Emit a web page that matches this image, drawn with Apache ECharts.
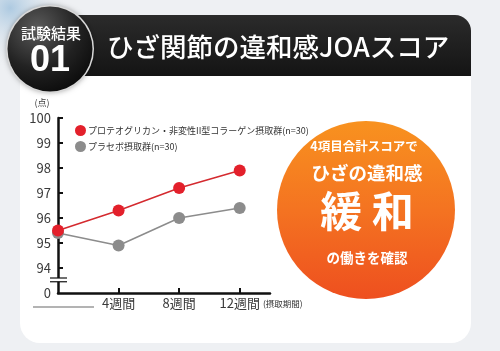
<!DOCTYPE html>
<html>
<head>
<meta charset="utf-8">
<script src="https://cdn.jsdelivr.net/npm/echarts@6/dist/echarts.min.js"></script>
<style>
html,body{margin:0;padding:0;background:#eef0f3;}
#chart{width:500px;height:351px;}
</style>
</head>
<body>
<div id="chart"></div>
<script>
// データ
var weeks = [0, 4, 8, 12];
var weekLabels = ['4週間', '8週間', '12週間'];
var collagenScore = [95.5, 96.3, 97.2, 97.9];
var placeboScore = [95.4, 94.9, 96.0, 96.4];
var yTicks = [94, 95, 96, 97, 98, 99, 100];
var seriesNames = ['プロテオグリカン・非変性II型コラーゲン摂取群(n=30)', 'プラセボ摂取群(n=30)'];

var FONT = '"Noto Sans CJK JP", sans-serif';

function pairs(xs, ys) {
    return xs.map(function (x, i) { return [x, ys[i]]; });
}

var chart = echarts.init(document.getElementById('chart'));

var option = {
    backgroundColor: '#eef0f3',
    animation: false,
    textStyle: { fontFamily: FONT },
    grid: { left: 58, right: 230, top: 118, bottom: 58 },
    legend: {
        orient: 'vertical',
        left: 70,
        top: 120,
        itemGap: 5,
        itemWidth: 11,
        itemHeight: 11,
        icon: 'circle',
        textStyle: { fontSize: 9, color: '#333', fontFamily: FONT, padding: [0, 0, 0, -3] },
        data: seriesNames
    },
    xAxis: {
        type: 'value',
        min: 0,
        max: 14,
        interval: 4,
        splitLine: { show: false },
        axisLine: { lineStyle: { color: '#111', width: 2.5 } },
        axisTick: { inside: true, length: 5, lineStyle: { color: '#111', width: 2 }, customValues: [4, 8, 12] },
        axisLabel: {
            customValues: [4, 8, 12],
            margin: 4,
            fontSize: 13,
            color: '#3a3a3a',
            formatter: function (v) { return weekLabels[weeks.indexOf(v) - 1] || ''; }
        }
    },
    yAxis: {
        type: 'value',
        min: 93,
        max: 100,
        interval: 1,
        splitLine: { show: false },
        axisLine: { lineStyle: { color: '#111', width: 2.5 } },
        axisTick: { inside: true, length: 5, lineStyle: { color: '#111', width: 2 }, customValues: yTicks },
        axisLabel: {
            customValues: [93].concat(yTicks),
            margin: 7,
            fontSize: 13,
            color: '#3a3a3a',
            formatter: function (v) { return v === 93 ? '0' : String(v); }
        }
    },
    series: [
        {
            name: seriesNames[0],
            type: 'line',
            data: pairs(weeks, collagenScore),
            symbol: 'circle',
            symbolSize: 12,
            itemStyle: { color: '#e3202b' },
            lineStyle: { color: '#d42a2f', width: 1.5 },
            z: 4
        },
        {
            name: seriesNames[1],
            type: 'line',
            data: pairs(weeks, placeboScore),
            symbol: 'circle',
            symbolSize: 12,
            itemStyle: { color: '#8c8c8c' },
            lineStyle: { color: '#8c8c8c', width: 1.5 },
            z: 3
        }
    ]
};

chart.setOption(option);

// 軸の省略記号などの装飾
var breakTop = chart.convertToPixel({ gridIndex: 0 }, [0, 93.6]);
var breakBot = chart.convertToPixel({ gridIndex: 0 }, [0, 93.45]);

chart.setOption({
    graphic: [
        // 左上の背景のにじみ
        { type: 'circle', z: -10, shape: { cx: 10, cy: 8, r: 60 },
          style: { fill: new echarts.graphic.RadialGradient(0.5, 0.5, 0.5, [
              { offset: 0, color: 'rgba(120,170,210,0.55)' },
              { offset: 1, color: 'rgba(238,240,243,0)' }]) } },
        // 白いパネル
        { type: 'rect', z: -5, shape: { x: 20, y: 60, width: 451, height: 283, r: [0, 0, 20, 20] },
          style: { fill: '#ffffff' } },
        // 見出しバー
        { type: 'rect', z: -4, shape: { x: 78, y: 15, width: 393, height: 61, r: [0, 16, 0, 0] },
          style: { fill: new echarts.graphic.LinearGradient(0, 0, 0, 1, [
              { offset: 0, color: '#2b2b2b' }, { offset: 1, color: '#141414' }]) } },
        { type: 'text', z: 5, style: { x: 107, y: 47, text: 'ひざ関節の違和感JOAスコア', fill: '#fff',
          font: '500 26.5px ' + FONT, verticalAlign: 'middle' } },
        // 試験結果の丸
        { type: 'circle', z: -3, shape: { cx: 50, cy: 49, r: 44 },
          style: { fill: '#d8d8d8', shadowBlur: 5, shadowColor: 'rgba(0,0,0,0.3)' } },
        { type: 'circle', z: -2, shape: { cx: 50, cy: 49, r: 42.5 },
          style: { fill: new echarts.graphic.RadialGradient(0.35, 0.25, 0.8, [
              { offset: 0, color: '#5a5a5a' }, { offset: 0.6, color: '#222' }, { offset: 1, color: '#0c0c0c' }]) } },
        { type: 'text', z: 5, style: { x: 51, y: 33, text: '試験結果', fill: '#fff',
          font: '500 15px ' + FONT, align: 'center', verticalAlign: 'middle' } },
        { type: 'text', z: 5, style: { x: 50, y: 61, text: '01', fill: '#fff',
          font: 'bold 36px "Liberation Sans Narrow", "Liberation Sans", sans-serif', align: 'center', verticalAlign: 'middle' } },
        // 単位・期間
        { type: 'text', z: 5, style: { x: 42, y: 103, text: '(点)', fill: '#444',
          font: '9px ' + FONT, align: 'center', verticalAlign: 'middle' } },
        { type: 'text', z: 5, style: { x: 263, y: 304, text: '(摂取期間)', fill: '#333',
          font: '8.5px ' + FONT, verticalAlign: 'middle' } },
        { type: 'line', z: 5, shape: { x1: 33, y1: 307, x2: 94, y2: 307 },
          style: { stroke: '#9a9a9a', lineWidth: 1.5 } },
        // 軸の省略
        { type: 'rect', z: 50, shape: { x: 54, y: breakTop[1], width: 9, height: breakBot[1] - breakTop[1] },
          style: { fill: '#fff' } },
        { type: 'line', z: 51, shape: { x1: 50, y1: breakTop[1], x2: 67, y2: breakTop[1] },
          style: { stroke: '#111', lineWidth: 1.2 } },
        { type: 'line', z: 51, shape: { x1: 50, y1: breakBot[1], x2: 67, y2: breakBot[1] },
          style: { stroke: '#111', lineWidth: 1.2 } },
        // オレンジの丸
        { type: 'circle', z: -1, shape: { cx: 366, cy: 210, r: 89 },
          style: { fill: new echarts.graphic.LinearGradient(0, 0, 0, 1, [
              { offset: 0, color: '#f8921f' }, { offset: 0.5, color: '#f47321' }, { offset: 1, color: '#ee4f1f' }]) } },
        { type: 'text', z: 5, style: { x: 364, y: 146, text: '4項目合計スコアで', fill: '#fff',
          font: 'bold 12.5px ' + FONT, align: 'center', verticalAlign: 'middle' } },
        { type: 'text', z: 5, style: { x: 367, y: 173, text: 'ひざの違和感', fill: '#fff',
          font: 'bold 18.5px ' + FONT, align: 'center', verticalAlign: 'middle' } },
        { type: 'text', z: 5, style: { x: 367, y: 211, text: '緩 和', fill: '#fff',
          font: 'bold 42px ' + FONT, align: 'center', verticalAlign: 'middle' } },
        { type: 'text', z: 5, style: { x: 367, y: 258, text: 'の働きを確認', fill: '#fff',
          font: 'bold 13.5px ' + FONT, align: 'center', verticalAlign: 'middle' } }
    ]
});

window.addEventListener('resize', function () { chart.resize(); });
</script>
</body>
</html>
